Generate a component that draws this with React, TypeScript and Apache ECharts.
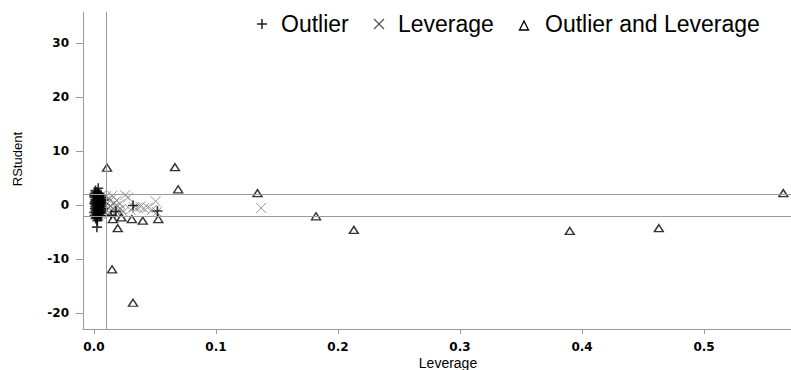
import React, { useEffect, useRef } from "react";
import * as echarts from "echarts";

// Leverage vs RStudent observations
const outlierPoints: [number, number][] = [
  [0.0004, 2.1], [0.0006, 1.4], [0.0008, 0.6], [0.001, -0.3], [0.0012, -1.1], [0.0005, -1.9], [0.0007, -0.7], [0.0009, 0.2], [0.0011, 1.0], [0.0013, 1.8],
  [0.0015, 2.4], [0.0017, -2.2], [0.0019, -1.5], [0.0021, -0.5], [0.0023, 0.4], [0.0025, 1.2], [0.0027, 2.0], [0.0016, 0.8], [0.0018, -0.1], [0.002, -0.9],
  [0.0022, 1.6], [0.0024, -1.7], [0.0026, -2.4], [0.0028, 0.1], [0.003, 0.9], [0.0032, -0.6], [0.0034, 1.5], [0.0036, -1.3], [0.0038, 0.5], [0.004, -0.2],
  [0.0029, 2.3], [0.0031, -2.0], [0.0033, 1.9], [0.0035, -1.0], [0.0037, 0.3], [0.0039, 1.1], [0.0041, -1.6], [0.0043, 0.7], [0.0045, -0.4], [0.0047, 1.3],
  [0.0049, -1.2], [0.0051, 0.0], [0.0053, -0.8], [0.0055, 0.6], [0.0044, 2.1], [0.0046, -2.1], [0.0003, 0.3], [0.0002, -1.4], [0.0001, 1.7], [0.0014, -2.5],
  [0.0042, 1.7], [0.0048, -1.9], [0.0057, -1.5], [0.0059, 1.0], [0.0061, -0.3], [0.0064, 0.4], [0.0066, 1.4], [0.0068, -1.1], [0.0071, 0.2],
  [0.0062, -2.0], [0.0058, 1.9], [0.0075, -0.7], [0.0079, 0.9],
  [0.0035, 3.1], [0.0024, -4.1], [0.0012, 2.7], [0.0028, -2.9], [0.032, -0.1], [0.052, -1.1], [0.014, -1.9], [0.018, -1.2],
];

const leveragePoints: [number, number][] = [
  [0.0065, 1.9], [0.0072, 1.1], [0.0078, -0.4], [0.0085, 0.7], [0.0091, -1.3], [0.0098, 1.6], [0.0104, -0.9], [0.011, 0.3], [0.0117, -1.8], [0.0123, 1.2],
  [0.013, -0.2], [0.0136, 0.9], [0.0142, -1.1], [0.015, 1.7], [0.0158, -0.6], [0.0165, 0.4], [0.0172, -1.5], [0.018, -0.3], [0.0188, 0.8], [0.0196, -1.0],
  [0.0205, -1.7], [0.0213, 0.2], [0.0222, -0.7], [0.024, -1.3], [0.0255, 1.8], [0.028, 1.4], [0.03, -0.9], [0.033, -0.4], [0.0355, -0.5], [0.038, -0.3],
  [0.041, -0.6], [0.044, -0.5], [0.0475, -0.9], [0.0505, 0.7], [0.0515, -1.3], [0.137, -0.55],
];

const bothPoints: [number, number][] = [
  [0.0107, 6.9], [0.0664, 7.0], [0.069, 2.9], [0.134, 2.2], [0.0148, -11.9], [0.032, -18.1], [0.0195, -4.3],
  [0.0155, -2.6], [0.0225, -2.3], [0.031, -2.6], [0.04, -2.9], [0.0527, -2.6],
  [0.182, -2.1], [0.213, -4.6], [0.39, -4.8], [0.463, -4.3], [0.565, 2.2],
];

const xTicks = [0, 0.1, 0.2, 0.3, 0.4, 0.5];
const yTicks = [-20, -10, 0, 10, 20, 30];
const rstudentCutoff = 2;
const leverageCutoff = 0.0074;
const legendNames = ["Outlier", "Leverage", "Outlier and Leverage"];

const PLUS = "path://M5,0L5,10M0,5L10,5";
const CROSS = "path://M0,0L10,10M10,0L0,10";

export default function App() {
  const ref = useRef<HTMLDivElement>(null);
  useEffect(() => {
    document.body.style.margin = "0";
    const chart = echarts.init(ref.current!, null, { renderer: "svg" });
    const axisGray = "#9a9a9a";
    const legendFont = { fontFamily: "Liberation Sans", fontSize: 23, fill: "#000" };
    chart.setOption({
      animation: false,
      grid: { left: 83, right: 0, top: 12, bottom: 41 },
      xAxis: {
        type: "value",
        min: -0.009,
        max: 0.5713,
        axisLine: { show: true, onZero: false, lineStyle: { color: axisGray, width: 1 } },
        axisTick: { show: true, length: 5, lineStyle: { color: axisGray }, customValues: xTicks },
        axisLabel: {
          customValues: xTicks,
          formatter: (v: number) => v.toFixed(1),
          fontFamily: "DejaVu Sans",
          fontWeight: "bold",
          fontSize: 12,
          color: "#000",
          margin: 12,
        },
        splitLine: { show: false },
      },
      yAxis: {
        type: "value",
        min: -22.96,
        max: 35.74,
        axisLine: { show: true, onZero: false, lineStyle: { color: axisGray, width: 1 } },
        axisTick: { show: true, length: 7, lineStyle: { color: axisGray }, customValues: yTicks },
        axisLabel: {
          customValues: yTicks,
          fontFamily: "DejaVu Sans",
          fontWeight: "bold",
          fontSize: 12,
          color: "#000",
          margin: 14,
        },
        splitLine: { show: false },
      },
      graphic: [
        { type: "text", left: 11, top: 132, rotation: Math.PI / 2, style: { text: "RStudent", fontFamily: "Liberation Sans", fontSize: 13, fill: "#000" } },
        { type: "text", x: 448, y: 363, style: { text: "Leverage", fontFamily: "Liberation Sans", fontSize: 14, fill: "#000", align: "center", verticalAlign: "middle" } },
        { type: "line", shape: { x1: 257, y1: 24, x2: 267, y2: 24 }, style: { stroke: "#000", lineWidth: 1.3 } },
        { type: "line", shape: { x1: 262, y1: 19, x2: 262, y2: 29 }, style: { stroke: "#000", lineWidth: 1.3 } },
        { type: "text", x: 281, y: 24, style: { ...legendFont, text: legendNames[0], verticalAlign: "middle" } },
        { type: "line", shape: { x1: 374, y1: 19, x2: 384, y2: 29 }, style: { stroke: "#555", lineWidth: 1.3 } },
        { type: "line", shape: { x1: 384, y1: 19, x2: 374, y2: 29 }, style: { stroke: "#555", lineWidth: 1.3 } },
        { type: "text", x: 398, y: 24, style: { ...legendFont, text: legendNames[1], verticalAlign: "middle" } },
        { type: "polygon", shape: { points: [[519.5, 30], [528.5, 30], [524, 21]] }, style: { stroke: "#000", fill: "#fff", lineWidth: 1.3 } },
        { type: "text", x: 545, y: 24, style: { ...legendFont, text: legendNames[2], verticalAlign: "middle" } },
      ],
      series: [
        {
          name: legendNames[1],
          type: "scatter",
          data: leveragePoints,
          symbol: CROSS,
          symbolSize: 10,
          itemStyle: { color: "transparent", borderColor: "#7a7a7a", borderWidth: 1 },
          markLine: {
            silent: true,
            symbol: "none",
            label: { show: false },
            lineStyle: { color: axisGray, type: "solid", width: 1 },
            data: [{ yAxis: rstudentCutoff }, { yAxis: -rstudentCutoff }, { xAxis: leverageCutoff }],
          },
          z: 2,
        },
        {
          name: legendNames[0],
          type: "scatter",
          data: outlierPoints,
          symbol: PLUS,
          symbolSize: 10,
          itemStyle: { color: "transparent", borderColor: "#000", borderWidth: 1.6 },
          z: 3,
        },
        {
          name: legendNames[2],
          type: "scatter",
          data: bothPoints,
          symbol: "triangle",
          symbolSize: [9, 7],
          itemStyle: { color: "#fff", borderColor: "#000", borderWidth: 1.4 },
          z: 4,
        },
      ],
    });
    return () => chart.dispose();
  }, []);
  return <div ref={ref} style={{ width: 791, height: 370 }} />;
}
